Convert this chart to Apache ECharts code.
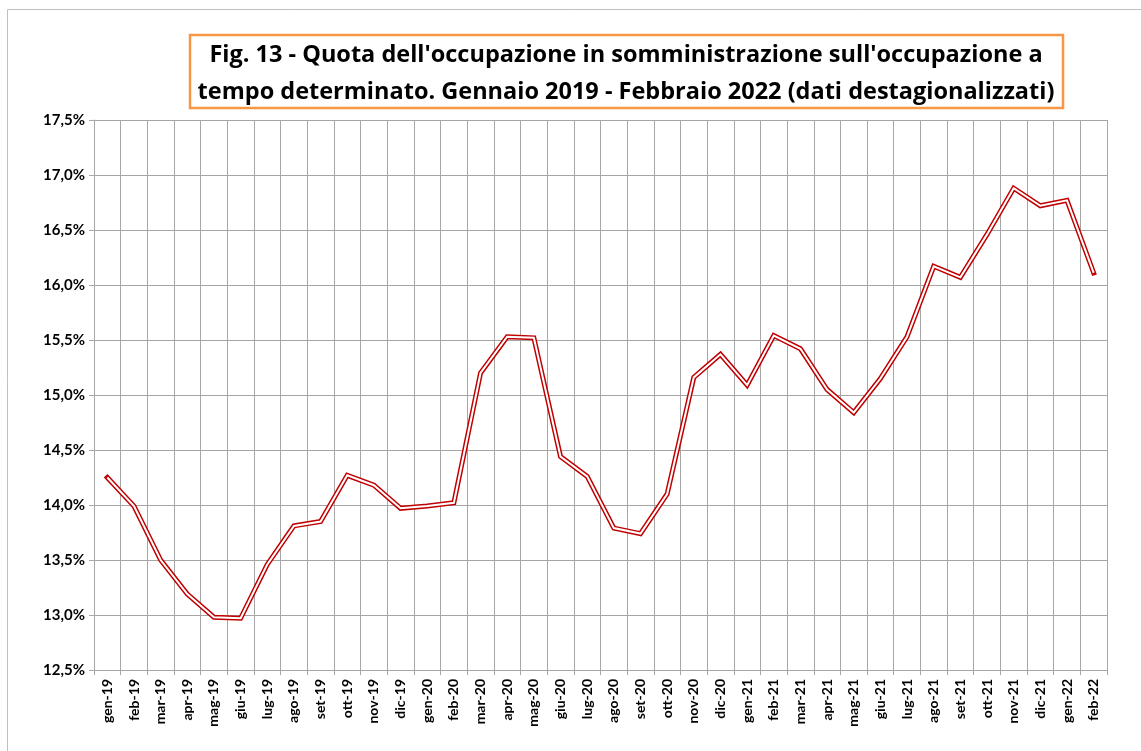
<!DOCTYPE html>
<html>
<head>
<meta charset="utf-8">
<script src="https://cdn.jsdelivr.net/npm/echarts@6/dist/echarts.min.js"></script>
<style>
  html, body { margin: 0; padding: 0; background: #fff; }
  #main { width: 1141px; height: 751px; }
</style>
</head>
<body>
<div id="main"></div>
<script>
var mesi = ['gen-19','feb-19','mar-19','apr-19','mag-19','giu-19','lug-19','ago-19','set-19','ott-19','nov-19','dic-19',
            'gen-20','feb-20','mar-20','apr-20','mag-20','giu-20','lug-20','ago-20','set-20','ott-20','nov-20','dic-20',
            'gen-21','feb-21','mar-21','apr-21','mag-21','giu-21','lug-21','ago-21','set-21','ott-21','nov-21','dic-21',
            'gen-22','feb-22'];
var quota = [14.25, 13.99, 13.50, 13.19, 12.98, 12.97, 13.46, 13.81, 13.85, 14.27, 14.18, 13.97,
             13.99, 14.02, 15.20, 15.53, 15.52, 14.44, 14.26, 13.79, 13.74, 14.10, 15.16, 15.37,
             15.09, 15.54, 15.42, 15.05, 14.84, 15.15, 15.53, 16.17, 16.07, 16.46, 16.88, 16.72,
             16.77, 16.11];
var titolo = ["Fig. 13 - Quota dell'occupazione in somministrazione sull'occupazione a",
              "tempo determinato. Gennaio 2019 - Febbraio 2022 (dati destagionalizzati)"];

var myChart = echarts.init(document.getElementById('main'));
var font = 'Lato, "Noto Sans", sans-serif';
var option = {
    backgroundColor: '#fff',
    animation: false,
    graphic: [
        {
            type: 'rect',
            shape: { x: 7.5, y: 9.5, width: 1140, height: 750 },
            style: { fill: 'none', stroke: '#BFBFBF', lineWidth: 1 }
        },
        {
            type: 'rect',
            shape: { x: 190, y: 35, width: 873, height: 73 },
            style: { fill: '#fff', stroke: '#F79646', lineWidth: 2.5 }
        },
        {
            type: 'text',
            x: 626, y: 74,
            style: {
                text: titolo.join('\n'),
                align: 'center', verticalAlign: 'middle',
                font: 'bold 23.5px "Open Sans", sans-serif',
                lineHeight: 37,
                fill: '#000'
            }
        }
    ],
    grid: { left: 94, right: 34, top: 120, bottom: 81 },
    xAxis: {
        type: 'category',
        data: mesi,
        boundaryGap: true,
        axisLine: { lineStyle: { color: '#A6A6A6', width: 1 } },
        axisTick: { show: true, length: 5, interval: 0, lineStyle: { color: '#A6A6A6' } },
        axisLabel: {
            rotate: 90, interval: 0, margin: 9,
            color: '#000', fontWeight: 'bold', fontSize: 14, fontFamily: font
        },
        splitLine: { show: true, interval: 0, lineStyle: { color: '#A6A6A6', width: 1 } }
    },
    yAxis: {
        type: 'value',
        min: 12.5, max: 17.5, interval: 0.5,
        axisLine: { show: true, lineStyle: { color: '#A6A6A6', width: 1 } },
        axisTick: { show: true, length: 5, lineStyle: { color: '#A6A6A6' } },
        axisLabel: {
            margin: 9,
            color: '#000', fontWeight: 'bold', fontSize: 15, fontFamily: font,
            formatter: function (v) { return v.toFixed(1).replace('.', ',') + '%'; }
        },
        splitLine: { show: true, lineStyle: { color: '#A6A6A6', width: 1 } }
    },
    series: [
        {
            name: 'quota',
            type: 'line',
            data: quota,
            symbol: 'none',
            lineStyle: { color: '#C00000', width: 5, cap: 'square', join: 'miter' },
            z: 3
        },
        {
            name: 'quota interno',
            type: 'line',
            data: quota,
            symbol: 'none',
            lineStyle: { color: '#fff', width: 2, cap: 'butt', join: 'miter' },
            z: 4
        }
    ]
};
myChart.setOption(option);
</script>
</body>
</html>
